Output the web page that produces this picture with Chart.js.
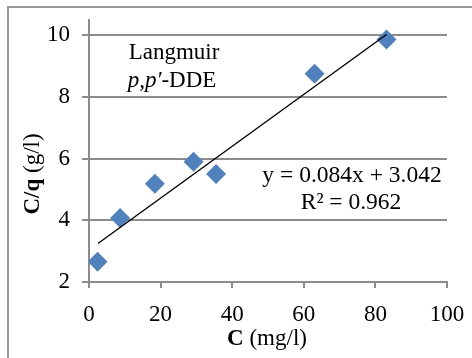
<!DOCTYPE html>
<html>
<head>
<meta charset="utf-8">
<script src="https://cdn.jsdelivr.net/npm/chart.js@4/dist/chart.umd.min.js"></script>
<style>
  html, body { margin: 0; padding: 0; background: #fff; }
  #wrap { width: 472px; height: 358px; }
</style>
</head>
<body>
<div id="wrap"><canvas id="langmuirChart" width="472" height="358"></canvas></div>
<script>
// measured points, C (mg/l) vs C/q (g/l)
const concC = [2.4, 8.7, 18.4, 29.2, 35.5, 63, 83.1];
const ratioCq = [2.66, 4.08, 5.19, 5.9, 5.5, 8.76, 9.87];

// fitted line end points (y = 0.084x + 3.042)
const fitX = [2.5, 83.1];
const fitY = [3.25, 10.03];

const xTicks = [0, 20, 40, 60, 80, 100];
const yTicks = [2, 4, 6, 8, 10];

const SERIF = "'Liberation Serif', 'Times New Roman', serif";
const GRID = '#8c8c8c';

// axis titles + text boxes drawn by hand (mixed bold/italic runs)
const textPlugin = {
  id: 'texts',
  beforeDraw(chart) {
    const ctx = chart.ctx;
    ctx.save();
    ctx.strokeStyle = '#999';
    ctx.lineWidth = 2;
    ctx.strokeRect(8, 7, 600, 600);
    ctx.restore();
  },
  afterDraw(chart) {
    const ctx = chart.ctx;
    ctx.save();
    ctx.fillStyle = '#000';
    ctx.textBaseline = 'middle';

    function runs(parts, cx, cy) {
      let w = 0;
      parts.forEach(p => { ctx.font = p[1]; w += ctx.measureText(p[0]).width; });
      let x = cx - w / 2;
      ctx.textAlign = 'left';
      parts.forEach(p => {
        ctx.font = p[1];
        ctx.fillText(p[0], x, cy);
        x += ctx.measureText(p[0]).width;
      });
    }

    // x title
    runs([['C', 'bold 23px ' + SERIF], [' (mg/l)', '23px ' + SERIF]], 267, 339);

    // y title, rotated
    ctx.save();
    ctx.translate(33, 174);
    ctx.rotate(-Math.PI / 2);
    runs([['C/q', 'bold 23px ' + SERIF], [' (g/l)', '23px ' + SERIF]], 0, 0);
    ctx.restore();

    // label
    runs([['Langmuir', '23px ' + SERIF]], 174, 53);
    runs([['p,p\u2032', 'italic 23px ' + SERIF], ['-DDE', '23px ' + SERIF]], 172, 81);

    // equation
    runs([['y = 0.084x + 3.042', '23.5px ' + SERIF]], 352, 176);
    runs([['R\u00b2 = 0.962', '23.5px ' + SERIF]], 351, 203);
    ctx.restore();
  }
};

new Chart(document.getElementById('langmuirChart').getContext('2d'), {
  type: 'scatter',
  data: {
    datasets: [
      {
        label: 'Linear fit',
        data: fitX.map((x, i) => ({ x: x, y: fitY[i] })),
        showLine: true,
        borderColor: '#000',
        borderWidth: 1.4,
        pointRadius: 0
      },
      {
        label: 'p,p\u2032-DDE',
        data: concC.map((x, i) => ({ x: x, y: ratioCq[i] })),
        pointStyle: 'rectRot',
        pointRadius: 10,
        backgroundColor: '#4f81bd',
        borderColor: '#4f81bd',
        borderWidth: 0
      }
    ]
  },
  options: {
    responsive: false,
    animation: false,
    layout: { padding: { left: 0, top: 20, right: 25, bottom: 0 } },
    plugins: {
      legend: { display: false },
      tooltip: { enabled: false }
    },
    scales: {
      x: {
        type: 'linear',
        min: 0,
        max: 100,
        afterBuildTicks: s => { s.ticks = xTicks.map(v => ({ value: v })); },
        // keep the plot area where the original has it
        afterFit: s => { s.height = 76; s.paddingLeft = 0; s.paddingRight = 0; },
        grid: { drawOnChartArea: false, drawTicks: true, tickLength: 6, color: GRID, lineWidth: 2 },
        border: { color: GRID, width: 2 },
        ticks: { color: '#000', padding: 13, font: { family: SERIF, size: 23 } }
      },
      y: {
        type: 'linear',
        min: 2,
        max: 10.5,
        afterBuildTicks: s => { s.ticks = yTicks.map(v => ({ value: v })); },
        afterFit: s => { s.width = 89; s.paddingTop = 0; s.paddingBottom = 0; },
        grid: { drawOnChartArea: true, drawTicks: true, tickLength: 7, color: GRID, lineWidth: 2 },
        border: { color: GRID, width: 2 },
        ticks: { color: '#000', padding: 12, font: { family: SERIF, size: 23 } }
      }
    }
  },
  plugins: [textPlugin]
});
</script>
</body>
</html>
